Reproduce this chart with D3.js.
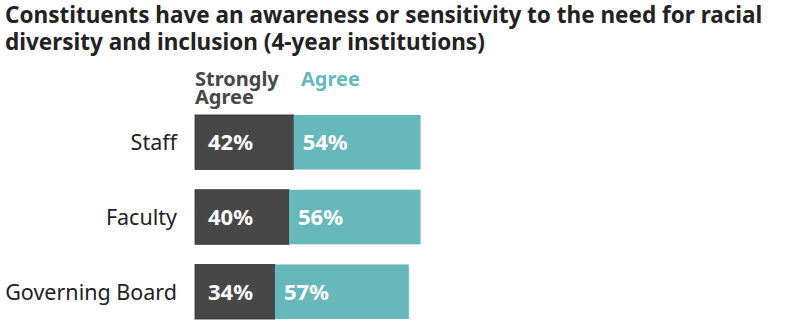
<!DOCTYPE html>
<html><head><meta charset="utf-8">
<script src="https://cdn.jsdelivr.net/npm/d3@7"></script>
<style>body{margin:0;background:#fff;} svg{display:block;}</style>
</head><body>
<svg id="c" width="800" height="331"></svg>
<script>
const categories = ["Staff", "Faculty", "Governing Board"];
const stronglyAgree = [42, 40, 34];
const agree = [54, 56, 57];
const seriesNames = ["Strongly Agree", "Agree"];
const titleLines = ["Constituents have an awareness or sensitivity to the need for racial", "diversity and inclusion (4-year institutions)"];

const svg = d3.select("#c");
const font = "'Noto Sans', sans-serif";
const colors = ["#474747", "#66b8bb"];

svg.selectAll("text.title").data(titleLines).join("text")
  .attr("class","title").attr("x",5).attr("y",(d,i)=>23+i*27)
  .attr("font-family",font).attr("font-weight","bold").attr("font-size",22.5)
  .attr("fill","#222").text(d=>d);

const x = d3.scaleLinear().domain([0,100]).range([195, 195+235]);
const y = d3.scaleBand().domain(categories).range([106, 328]).paddingInner(0.27).paddingOuter(0.12);

const data = categories.map((c,i)=>({c, s:stronglyAgree[i], a:agree[i]}));

// legend
const lg = svg.append("g").attr("font-family",font).attr("font-weight","bold").attr("font-size",20);
lg.append("text").attr("x",195).attr("y",86).attr("fill",colors[0]).text("Strongly");
lg.append("text").attr("x",195).attr("y",104).attr("fill",colors[0]).text("Agree");
lg.append("text").attr("x",301).attr("y",86).attr("fill",colors[1]).text(seriesNames[1]);

const g = svg.append("g");
g.selectAll("rect.s").data(data).join("rect").attr("class","s")
  .attr("x",x(0)).attr("y",d=>y(d.c)).attr("width",d=>x(d.s)-x(0)).attr("height",y.bandwidth())
  .attr("fill",colors[0]).attr("stroke","#333").attr("stroke-width",0.8);
g.selectAll("rect.a").data(data).join("rect").attr("class","a")
  .attr("x",d=>x(d.s)).attr("y",d=>y(d.c)).attr("width",d=>x(d.s+d.a)-x(d.s)).attr("height",y.bandwidth())
  .attr("fill",colors[1]);

g.selectAll("text.sl").data(data).join("text").attr("class","sl")
  .attr("x",x(0)+13).attr("y",d=>y(d.c)+y.bandwidth()/2+8)
  .attr("font-family",font).attr("font-weight","bold").attr("font-size",22).attr("fill","#fff")
  .text(d=>d.s+"%");
g.selectAll("text.al").data(data).join("text").attr("class","al")
  .attr("x",d=>x(d.s)+9).attr("y",d=>y(d.c)+y.bandwidth()/2+8)
  .attr("font-family",font).attr("font-weight","bold").attr("font-size",22).attr("fill","#fff")
  .text(d=>d.a+"%");

g.selectAll("text.cat").data(data).join("text").attr("class","cat")
  .attr("x",177).attr("y",d=>y(d.c)+y.bandwidth()/2+8).attr("text-anchor","end")
  .attr("font-family",font).attr("font-size",21.5).attr("fill","#222").text(d=>d.c);
</script>
</body></html>
